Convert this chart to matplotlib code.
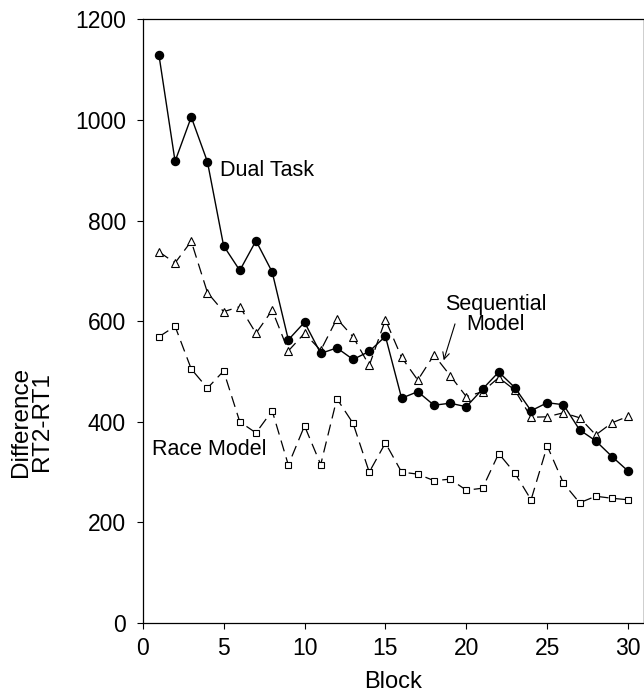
import matplotlib.pyplot as plt
import numpy as np

plt.rcParams['font.family'] = ['Liberation Sans', 'DejaVu Sans']

blocks = np.arange(1, 31)

dual_task = [1130, 918, 1006, 917, 750, 701, 760, 698, 563, 598,
             536, 547, 524, 540, 570, 447, 460, 433, 437, 430,
             465, 499, 468, 422, 438, 434, 384, 362, 331, 302]

sequential = [738, 716, 759, 657, 619, 629, 576, 622, 541, 576,
              542, 605, 569, 512, 603, 528, 483, 533, 492, 450,
              460, 488, 463, 409, 410, 418, 408, 374, 398, 411]

race = [569, 590, 505, 467, 501, 400, 378, 422, 314, 392,
        315, 446, 397, 300, 358, 300, 296, 283, 286, 264,
        268, 337, 298, 245, 352, 278, 239, 252, 248, 245]

fig = plt.figure(figsize=(6.44, 6.96), dpi=100)
ax = fig.add_axes([0.2216, 0.1049, 0.7764, 0.8671])

dash = (0, (9, 5))
ax.plot(blocks, race, color='black', lw=0.9, linestyle=dash,
        marker='s', markersize=4.8, markerfacecolor='white',
        markeredgecolor='black', markeredgewidth=0.8)
ax.plot(blocks, sequential, color='black', lw=0.9, linestyle=dash,
        marker='^', markersize=5.8, markerfacecolor='white',
        markeredgecolor='black', markeredgewidth=0.8)
ax.plot(blocks, dual_task, color='black', lw=1.0, linestyle='-',
        marker='o', markersize=5.8, markerfacecolor='black',
        markeredgecolor='black')

ax.set_xlim(0, 30.9)
ax.set_ylim(0, 1200)
ax.set_xticks(np.arange(0, 31, 5))
ax.set_yticks(np.arange(0, 1201, 200))
ax.tick_params(labelsize=16.5, length=4, width=0.8, direction='out')
ax.tick_params(axis='y', pad=8)
ax.tick_params(axis='x', pad=6)

for side in ['left', 'bottom', 'top']:
    ax.spines[side].set_linewidth(0.9)
ax.spines['right'].set_color('#bbbbbb')
ax.spines['right'].set_linewidth(0.5)

ax.set_xlabel('Block', fontsize=17, labelpad=8)
ax.set_ylabel('Difference\nRT2-RT1', fontsize=17.5, linespacing=0.92)
ax.yaxis.set_label_coords(-0.18, 0.333)

ax.text(4.75, 900, 'Dual Task', fontsize=15.5, va='center', ha='left')
ax.text(0.6, 344, 'Race Model', fontsize=15.5, va='center', ha='left')
ax.text(21.8, 614, 'Sequential\nModel', fontsize=15.5, va='center', ha='center',
        linespacing=0.95)
ax.annotate('', xy=(18.55, 517), xytext=(19.35, 600),
            arrowprops=dict(arrowstyle='->', color='black', lw=0.8,
                            mutation_scale=12))

fig.savefig('out.png', dpi=100)
